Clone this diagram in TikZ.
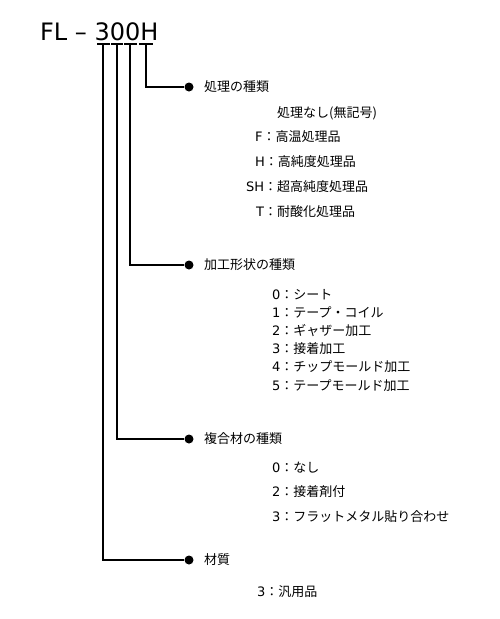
\documentclass[tikz,border=0pt]{standalone}
\usepackage{fontspec}
\setmainfont{DejaVu Sans}
\newfontfamily\jp{Noto Sans CJK JP}
\begin{document}
\begin{tikzpicture}[x=1pt,y=-1pt,
  lbl/.style={anchor=west,inner sep=0pt,font=\fontsize{13}{15}\selectfont,text height=11.4pt,text depth=1.6pt},
  dot/.style={circle,fill,inner sep=0pt,minimum size=9pt},
  conn/.style={line width=1.3pt},
  bar/.style={line width=1.3pt}]
\useasboundingbox (0,0) rectangle (500,619);
\node[anchor=base west,inner sep=0pt,font=\fontsize{24}{28}\selectfont] (title) at (40,40) {FL – 300H};
% bars under digits
\draw[bar] (97,44) -- (110,44);
\draw[bar] (111,44) -- (123,44);
\draw[bar] (124,44) -- (137,44);
\draw[bar] (139,44) -- (153,44);
\coordinate (t1) at (103,44);
\coordinate (t2) at (117,44);
\coordinate (t3) at (130,44);
\coordinate (t4) at (146,44);
% bullets
\node[dot] (d4) at (189,87) {};
\node[dot] (d3) at (189,265) {};
\node[dot] (d2) at (189,439) {};
\node[dot] (d1) at (189,560) {};
\draw[conn] (t4) |- (d4);
\draw[conn] (t3) |- (d3);
\draw[conn] (t2) |- (d2);
\draw[conn] (t1) |- (d1);
% headings
\node[lbl] (h4) at (204,87) {\jp 処理の種類};
\node[lbl] (h3) at (204,265) {\jp 加工形状の種類};
\node[lbl] (h2) at (204,439) {\jp 複合材の種類};
\node[lbl] (h1) at (204,560) {\jp 材質};
% section 1
\node[lbl] (a0) at (277,113) {\jp 処理なし(無記号)};
\node[lbl] (a1) at (255,137) {F\jp：高温処理品};
\node[lbl] (a2) at (255,162) {H\jp：高純度処理品};
\node[lbl] (a3) at (246,187) {SH\jp：超高純度処理品};
\node[lbl] (a4) at (256,212) {T\jp：耐酸化処理品};
% section 2
\node[lbl] (b0) at (272,295) {0\jp：シート};
\node[lbl] (b1) at (272,313) {1\jp：テープ・コイル};
\node[lbl] (b2) at (272,331) {2\jp：ギャザー加工};
\node[lbl] (b3) at (272,349) {3\jp：接着加工};
\node[lbl] (b4) at (272,367) {4\jp：チップモールド加工};
\node[lbl] (b5) at (272,386) {5\jp：テープモールド加工};
% section 3
\node[lbl] (c0) at (272,468) {0\jp：なし};
\node[lbl] (c2) at (272,492) {2\jp：接着剤付};
\node[lbl] (c3) at (272,517) {3\jp：フラットメタル貼り合わせ};
% section 4
\node[lbl] (e3) at (257,592) {3\jp：汎用品};
\end{tikzpicture}
\end{document}
